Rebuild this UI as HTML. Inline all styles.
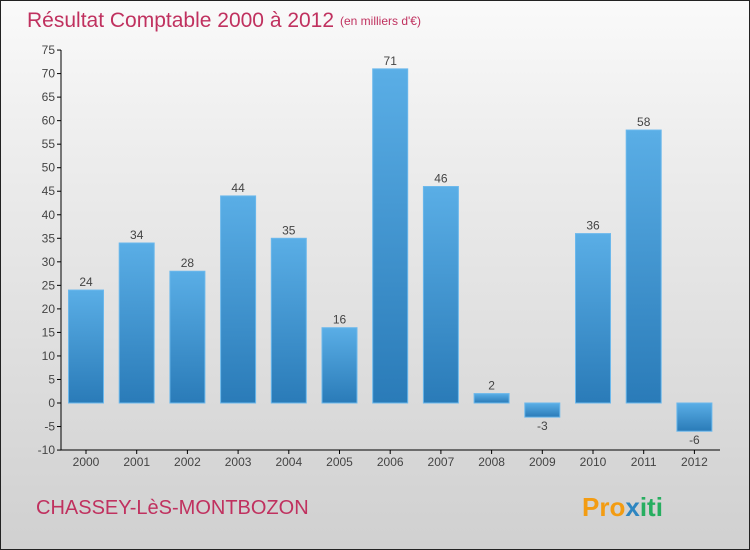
<!DOCTYPE html>
<html><head><meta charset="utf-8"><style>
body{margin:0;width:750px;height:550px;overflow:hidden}
#c{position:absolute;left:0;top:0;width:748px;height:548px;border:1px solid #222;background:linear-gradient(#fafafa,#f0f0f0 20%,#d0d0d0);}
svg{position:absolute;left:0;top:0}
text{font-family:"Liberation Sans",sans-serif}
</style></head><body>
<div id="c"></div>
<svg id="s" width="750" height="550">
<defs><linearGradient id="g" x1="0" y1="0" x2="0" y2="1"><stop offset="0" stop-color="#5aaee6"/><stop offset="1" stop-color="#2a7bb8"/></linearGradient></defs>
<text x="27" y="27" font-size="21" fill="#c0315f">Résultat Comptable 2000 à 2012</text>
<text x="340" y="25" font-size="12" fill="#c0315f">(en milliers d'€)</text>
<text x="36" y="514" font-size="20" fill="#c0315f">CHASSEY-LèS-MONTBOZON</text>
<text x="582" y="516" font-size="26" font-weight="bold" fill="#f39c12">Pro<tspan fill="#2e86c1">x</tspan><tspan fill="#27ae60">iti</tspan></text>
</svg>
<script>
const years=["2000","2001","2002","2003","2004","2005","2006","2007","2008","2009","2010","2011","2012"];
const values=[24,34,28,44,35,16,71,46,2,-3,36,58,-6];
const yTicks=[75,70,65,60,55,50,45,40,35,30,25,20,15,10,5,0,-5,-10];
const s=document.getElementById('s');const NS='http://www.w3.org/2000/svg';
const y=v=>403-v*(400/85);const x=i=>86+i*50.7;
function mk(t,a){const e=document.createElementNS(NS,t);for(const k in a)e.setAttribute(k,a[k]);s.appendChild(e);return e;}
yTicks.forEach(v=>{
const l=mk('line',{x1:57,x2:61,y1:y(v),y2:y(v),stroke:'#000'});


const t=mk('text',{x:55,y:y(v)+4,'font-size':12,'text-anchor':'end',fill:'#444'});t.textContent=v;


});
values.forEach((v,i)=>{
const top=Math.min(y(v),y(0)),h=Math.abs(y(v)-y(0));
const r=mk('rect',{x:x(i)-17.5,y:top,width:35,height:h,fill:'url(#g)',stroke:'#6bb8ec','stroke-width':1});


const t=mk('text',{x:x(i),y:v>=0?y(v)-4:y(v)+13,'font-size':12,'text-anchor':'middle',fill:'#444'});t.textContent=v;


const tk=mk('line',{x1:x(i),x2:x(i),y1:450,y2:454,stroke:'#000'});


const xl=mk('text',{x:x(i),y:466,'font-size':12,'text-anchor':'middle',fill:'#444'});xl.textContent=years[i];


});
const ya=mk('line',{x1:61,x2:61,y1:y(75),y2:450,stroke:'#000'});


const xa=mk('line',{x1:61,x2:720,y1:450,y2:450,stroke:'#000'});


</script>
</body></html>
